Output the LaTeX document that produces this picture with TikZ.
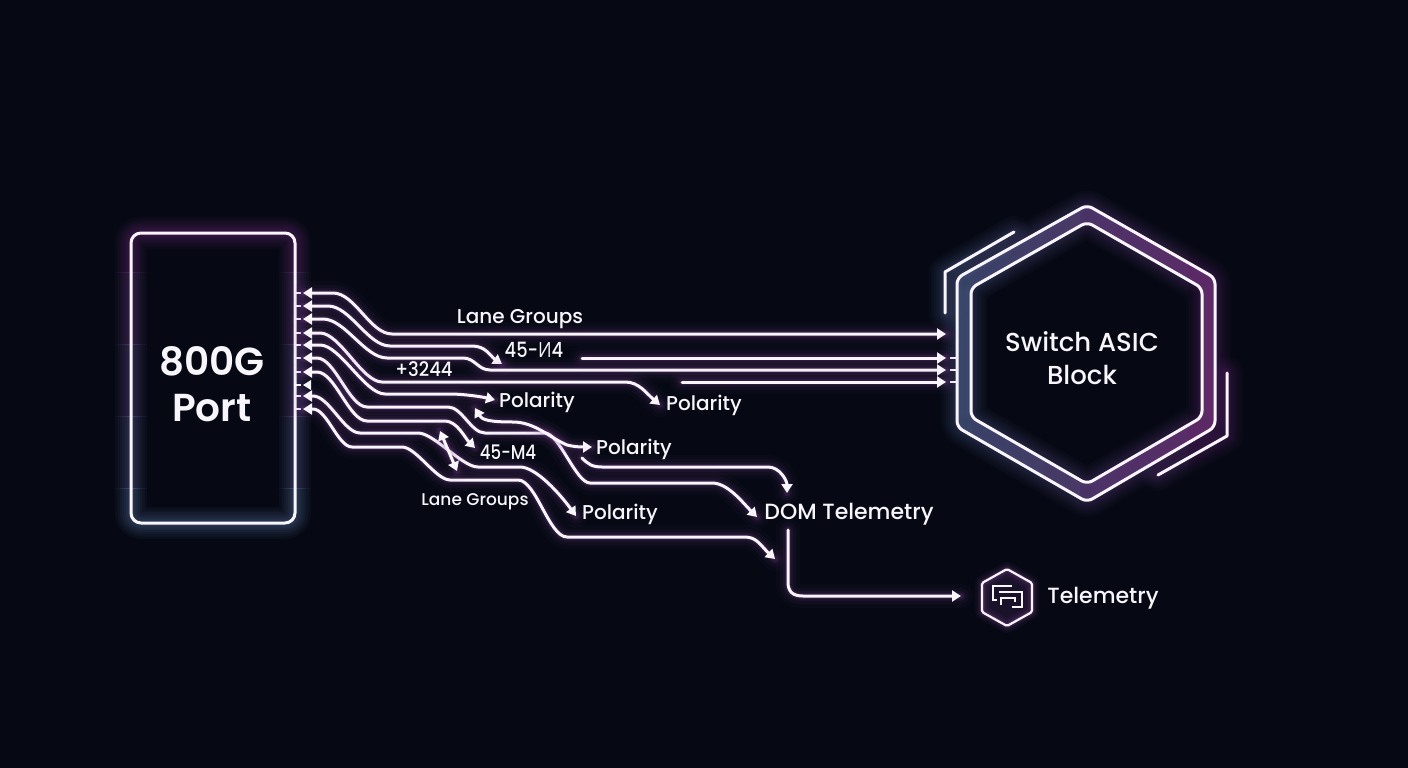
\documentclass[tikz,border=0pt]{standalone}
\usepackage{fontspec}
\setmainfont{Poppins Medium}[BoldFont={Poppins SemiBold}]
\newfontfamily\cyrfont{Open Sans}
\usetikzlibrary{arrows.meta,calc}
\definecolor{bgc}{HTML}{060914}
\definecolor{linec}{HTML}{F8F5FB}
\definecolor{glowp}{HTML}{A83CB0}
\definecolor{glowb}{HTML}{7FA4E0}
\definecolor{glowm}{HTML}{9A4FB0}
\definecolor{bandb}{HTML}{263049}
\definecolor{bandp}{HTML}{4C2353}
\tikzset{
  ln/.style={draw=linec,line width=3pt,line cap=round,line join=round},
  ends/.style={{Triangle[length=9pt,width=11pt]}-{Triangle[length=9pt,width=11pt]}},
  endr/.style={-{Triangle[length=9pt,width=11pt]}},
  stub/.style={draw=linec,line width=2pt},
  lbl/.style={text=linec,inner sep=0pt,font=\fontsize{#1}{#1}\selectfont},
}
% wire: glow passes, then the line
\newcommand\wire[2][]{%
  \foreach \w/\o in {24/.03,16/.05,10/.08,6/.14}{\draw[draw=glowm,line width=\w pt,opacity=\o,line cap=round,line join=round] #2;}%
  \draw[ln,#1] #2;}
\newcommand\shapeglow[3]{%
  \foreach \w in {32,27,22,18,14,11,8,5}{\draw[draw=#1,line width=\w pt,opacity=#3,line join=round,line cap=round] #2;}}
\newcommand\portpath{[rounded corners=10pt] (213,233) -- (295,233) -- (295,523) -- (131,523) -- (131,233) -- cycle}
\newcommand\hexout{[rounded corners=6pt] (1087,205) -- (1215,278) -- (1215,427) -- (1087,502) -- (957,427) -- (957,278) -- cycle}
\newcommand\hexin{[rounded corners=6pt] (1087,222) -- (1202,288) -- (1202,417) -- (1087,484) -- (971,417) -- (971,288) -- cycle}
\newcommand\hexleft{(1014,232) -- (945,272) -- (945,313)}
\newcommand\hexright{(1227,373) -- (1227,436) -- (1158,475)}
\newcommand\smallhex{(1007,569) -- (1032,583) -- (1032,612) -- (1007,626) -- (982,612) -- (982,583) -- cycle}
\begin{document}
\begin{tikzpicture}[x=1pt,y=-1pt]
\fill[bgc] (0,0) rectangle (1408,768);
\useasboundingbox (0,0) rectangle (1408,768);

% ---------- named ends
\foreach \n/\y in {1/293,2/306,3/319,4/333,5/345,6/358,7/372,8/385,9/396,10/409}{\coordinate (p\n) at (303,\y);}
\coordinate (a1) at (946,334);
\coordinate (a2) at (946,358);
\coordinate (a3) at (946,370);
\coordinate (a4) at (946,382);
\coordinate (s2) at (582,358);
\coordinate (s4) at (682,382);
\coordinate (e2) at (502,364);
\coordinate (e4) at (660,405);
\coordinate (e5) at (495,400);
\coordinate (e6) at (757,517);
\coordinate (e7) at (475,448);
\coordinate (e9) at (576,516);
\coordinate (e10) at (775,559);
\coordinate (d1) at (440,431);
\coordinate (d2) at (457,471);
\coordinate (q1) at (475,408);
\coordinate (q2) at (592,447);
\coordinate (r1) at (582,458);
\coordinate (r2) at (787,493);
\coordinate (t1) at (788,530);
\coordinate (t2) at (961,596);

% ---------- port
\foreach \i in {0,...,4}{
  \begin{scope}
  \clip (90,{200+\i*72}) rectangle (340,{200+(\i+1)*72});
  \pgfmathsetmacro\m{100-\i*25}
  \colorlet{gl}{glowp!\m!glowb}
  \shapeglow{gl}{\portpath}{.045}
  \end{scope}
}
\draw[ln] \portpath;
\foreach \n in {1,...,10}{\draw[stub] (p\n) ++(-7,0) -- ++(5,0);}
\node[lbl=39,font=\fontsize{39}{46}\selectfont\bfseries,align=center] (portlbl) at (212,384) {800G\\Port};

% ---------- hexagon
\shade[left color=bandb,right color=bandp,even odd rule] \hexout \hexin;
\foreach \i in {0,...,9}{
  \begin{scope}
  \clip ({900+\i*36},170) rectangle ({900+(\i+1)*36},530);
  \pgfmathsetmacro\m{\i*100/9}
  \colorlet{gl}{glowp!\m!glowb}
  \shapeglow{gl}{\hexout}{.03}
  \shapeglow{gl}{\hexin}{.03}
  \shapeglow{gl}{\hexleft}{.03}
  \shapeglow{gl}{\hexright}{.03}
  \end{scope}
}
\draw[ln] \hexout;
\draw[ln] \hexin;
\draw[ln] \hexleft;
\draw[ln] \hexright;
\foreach \c in {a2,a3,a4}{\draw[stub] ($(\c)+(4,0)$) -- ($(\c)+(10,0)$);}
\node[lbl=26,font=\fontsize{26}{33}\selectfont\mdseries,align=center] (asic) at (1082,358) {Switch ASIC\\Block};

% ---------- wires
\wire[ends]{(p1) -- (333,293) .. controls +(22,0) and +(-22,0) .. (392,334) -- (a1)}
\wire[ends]{(p2) -- (328,306) .. controls +(22,0) and +(-22,0) .. (390,346) -- (472,346) .. controls +(14,0) and +(-12,-8) .. (e2)}
\wire[ends]{(p3) -- (323,319) .. controls +(22,0) and +(-22,0) .. (387,358) -- (463,358) .. controls +(12,0) and +(-12,0) .. (490,370) -- (a3)}
\wire[ends]{(p4) -- (320,333) .. controls +(20,0) and +(-20,0) .. (382,382) -- (625,382) .. controls +(14,0) and +(-14,-12) .. (e4)}
\wire[ends]{(p5) -- (320,345) .. controls +(20,0) and +(-20,0) .. (385,394) -- (450,394) .. controls +(14,0) and +(-12,-3) .. (e5)}
\wire[ends]{(p6) -- (317,358) .. controls +(18,0) and +(-18,0) .. (367,407) -- (448,407) .. controls +(14,0) and +(-14,0) .. (485,433) -- (545,433) .. controls +(14,0) and +(-14,0) .. (590,483) -- (712,483) .. controls +(16,0) and +(-14,-14) .. (e6)}
\wire[ends]{(p7) -- (317,372) .. controls +(18,0) and +(-18,0) .. (367,421) -- (445,421) .. controls +(12,0) and +(-10,-10) .. (e7)}
\wire[ends]{(p9) -- (313,396) .. controls +(16,0) and +(-16,0) .. (360,433) -- (418,433) .. controls +(16,0) and +(-16,0) .. (478,467) -- (520,467) .. controls +(16,0) and +(-16,-22) .. (e9)}
\wire[ends]{(p10) -- (313,409) .. controls +(14,0) and +(-14,0) .. (352,447) -- (402,447) .. controls +(14,0) and +(-14,0) .. (450,480) -- (518,480) .. controls +(18,0) and +(-18,0) .. (567,537) -- (745,537) .. controls +(12,0) and +(-14,-13) .. (e10)}
\fill[linec] (p8) -- ++(8,-5) -- ++(0,10) -- cycle;
\wire[ends]{(d1) -- (d2)}
\wire[ends]{(q1) .. controls (482,420) and (490,422) .. (513,422) .. controls (535,422) and (550,438) .. (567,445) .. controls (575,447) and (582,447) .. (q2)}
\wire[endr]{(r1) .. controls +(6,6) and +(-10,0) .. (602,467) -- (768,467) .. controls +(12,0) and +(0,-12) .. (r2)}
\wire[endr]{(s2) -- (a2)}
\wire[endr]{(s4) -- (a4)}
\wire[endr]{(t1) -- (788,582) .. controls +(0,10) and +(-10,0) .. (803,596) -- (t2)}

% ---------- telemetry icon
\fill[glowm,opacity=.14] \smallhex;
\foreach \w/\o in {14/.06,9/.1,5/.18}{\draw[draw=glowm,line width=\w pt,opacity=\o,line join=round] \smallhex;}
\draw[ln,line width=2.2pt,rounded corners=1.5pt] \smallhex;
\draw[draw=linec,line width=1.8pt] (1012,586) -- (993,586) -- (993,600) -- (997,600);
\draw[draw=linec,line width=1.8pt] (999,592) -- (1022,592) -- (1022,607) -- (1012,607);
\draw[draw=linec,line width=1.8pt] (1001,605) -- (1001,598) -- (1015,598) -- (1015,602);

% ---------- labels
\node[lbl=20] (l1) at (520,319.5) {Lane Groups};
\node[lbl=21,xscale=.85] (l2) at (534,350) {45-{\cyrfont И}4};
\node[lbl=20,xscale=.9] (l3) at (424,369) {+3244};
\node[lbl=20] (l4) at (537,402) {Polarity};
\node[lbl=20] (l5) at (704,405) {Polarity};
\node[lbl=20] (l6) at (634,449) {Polarity};
\node[lbl=20,xscale=.83] (l7) at (508,452) {45-M4};
\node[lbl=17] (l8) at (475,501.5) {Lane Groups};
\node[lbl=20] (l9) at (620,514) {Polarity};
\node[lbl=22] (l10) at (849,514) {DOM Telemetry};
\node[lbl=22] (l11) at (1103,598.5) {Telemetry};
\end{tikzpicture}
\end{document}
